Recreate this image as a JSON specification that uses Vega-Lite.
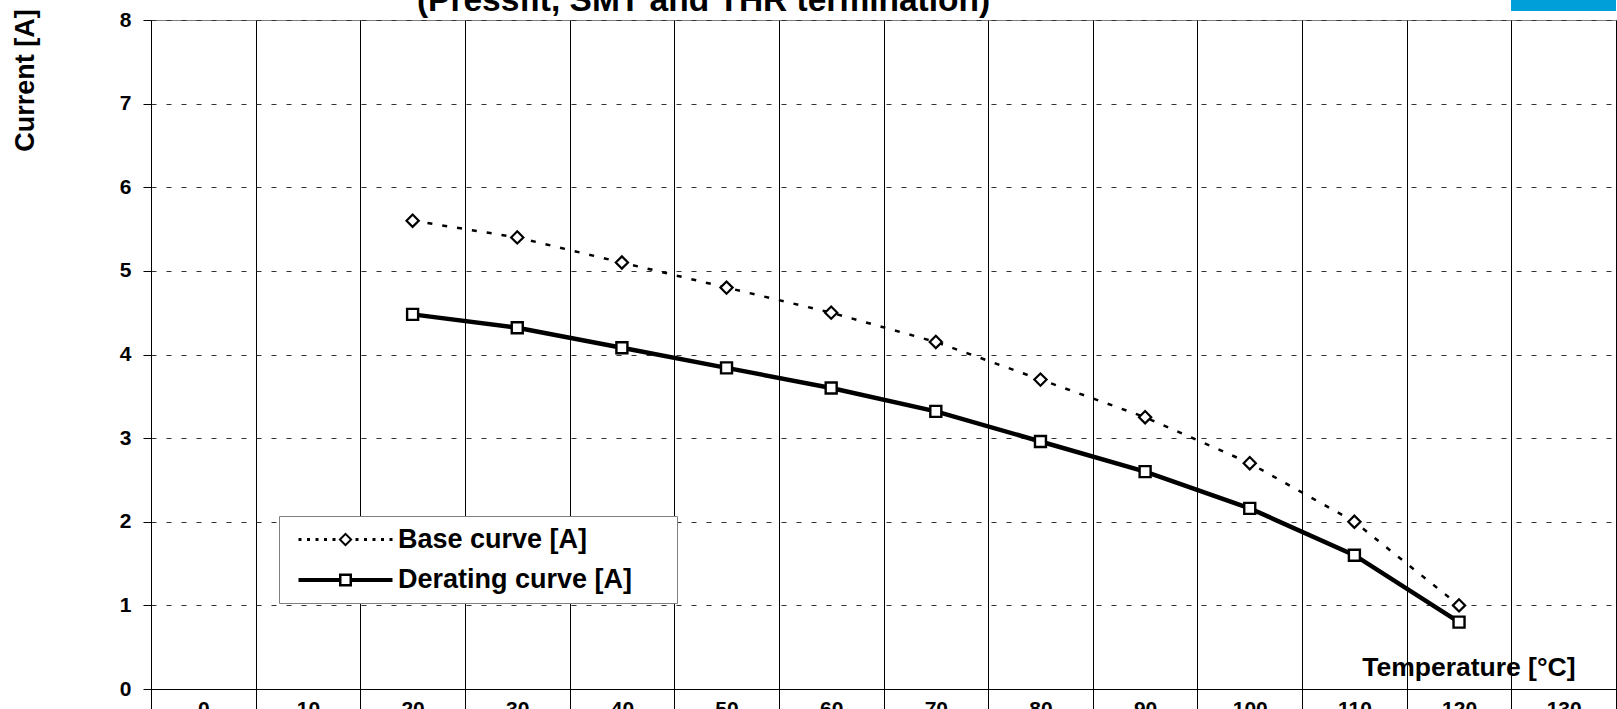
{
  "$schema": "https://vega.github.io/schema/vega-lite/v6.json",
  "autosize": {"type": "none"},
  "padding": {"left": 151, "top": 20, "right": 1, "bottom": 20},
  "width": 1465,
  "height": 669,
  "background": "white",
  "title": {
    "text": "(Pressfit, SMT and THR termination)",
    "fontSize": 33.5,
    "fontWeight": "bold",
    "font": "Liberation Sans",
    "color": "black",
    "anchor": "middle",
    "frame": "group",
    "baseline": "alphabetic",
    "offset": -45,
    "dx": -180
  },
  "config": {
    "view": {"stroke": "#7f7f7f", "strokeWidth": 1},
    "font": "Liberation Sans"
  },
  "data": {
    "values": [
      {"temp": 20, "series": "Base curve [A]", "current": 5.6},
      {"temp": 30, "series": "Base curve [A]", "current": 5.4},
      {"temp": 40, "series": "Base curve [A]", "current": 5.1},
      {"temp": 50, "series": "Base curve [A]", "current": 4.8},
      {"temp": 60, "series": "Base curve [A]", "current": 4.5},
      {"temp": 70, "series": "Base curve [A]", "current": 4.15},
      {"temp": 80, "series": "Base curve [A]", "current": 3.7},
      {"temp": 90, "series": "Base curve [A]", "current": 3.25},
      {"temp": 100, "series": "Base curve [A]", "current": 2.7},
      {"temp": 110, "series": "Base curve [A]", "current": 2.0},
      {"temp": 120, "series": "Base curve [A]", "current": 1.0},
      {"temp": 20, "series": "Derating curve [A]", "current": 4.48},
      {"temp": 30, "series": "Derating curve [A]", "current": 4.32},
      {"temp": 40, "series": "Derating curve [A]", "current": 4.08},
      {"temp": 50, "series": "Derating curve [A]", "current": 3.84},
      {"temp": 60, "series": "Derating curve [A]", "current": 3.6},
      {"temp": 70, "series": "Derating curve [A]", "current": 3.32},
      {"temp": 80, "series": "Derating curve [A]", "current": 2.96},
      {"temp": 90, "series": "Derating curve [A]", "current": 2.6},
      {"temp": 100, "series": "Derating curve [A]", "current": 2.16},
      {"temp": 110, "series": "Derating curve [A]", "current": 1.6},
      {"temp": 120, "series": "Derating curve [A]", "current": 0.8}
    ]
  },
  "encoding": {
    "x": {
      "field": "temp",
      "type": "ordinal",
      "scale": {
        "type": "band",
        "domain": [0, 10, 20, 30, 40, 50, 60, 70, 80, 90, 100, 110, 120, 130],
        "paddingInner": 0,
        "paddingOuter": 0
      },
      "axis": {
        "orient": "bottom",
        "tickBand": "extent",
        "grid": true,
        "gridColor": "black",
        "gridWidth": 1,
        "gridOpacity": 1,
        "ticks": true,
        "tickSize": 25,
        "tickColor": "black",
        "domainColor": "black",
        "labelAngle": 0,
        "labelFontSize": 21,
        "labelFontWeight": "bold",
        "labelColor": "black",
        "labelPadding": -16,
        "title": "Temperature [°C]",
        "titleFontSize": 26.5,
        "titleFontWeight": "bold",
        "titleColor": "black",
        "titleAlign": "right",
        "titleBaseline": "middle",
        "titleAnchor": null,
        "titleX": 1424,
        "titleY": -22
      }
    },
    "y": {
      "field": "current",
      "type": "quantitative",
      "scale": {"domain": [0, 8], "nice": false, "zero": true},
      "axis": {
        "values": [0, 1, 2, 3, 4, 5, 6, 7, 8],
        "grid": true,
        "gridColor": "#333333",
        "gridDash": [5, 10],
        "gridOpacity": 1,
        "tickSize": 8,
        "tickColor": "black",
        "domainColor": "black",
        "labelFontSize": 21,
        "labelFontWeight": "bold",
        "labelColor": "black",
        "labelPadding": 12,
        "title": "Current [A]",
        "titleFontSize": 27,
        "titleFontWeight": "bold",
        "titleColor": "black",
        "titleAlign": "center",
        "titleBaseline": "middle",
        "titleAnchor": null,
        "titleX": -126,
        "titleY": 60
      }
    }
  },
  "layer": [
    {
      "transform": [{"filter": "datum.series === 'Base curve [A]'"}],
      "mark": {"type": "line", "color": "black", "strokeWidth": 2.5, "strokeDash": [5, 10]}
    },
    {
      "transform": [{"filter": "datum.series === 'Derating curve [A]'"}],
      "mark": {"type": "line", "color": "black", "strokeWidth": 4.5}
    },
    {
      "transform": [{"filter": "datum.series === 'Base curve [A]'"}],
      "mark": {"type": "point", "shape": "diamond", "size": 150, "filled": true, "fill": "white", "stroke": "black", "strokeWidth": 2.2, "opacity": 1}
    },
    {
      "transform": [{"filter": "datum.series === 'Derating curve [A]'"}],
      "mark": {"type": "point", "shape": "square", "size": 121, "filled": true, "fill": "white", "stroke": "black", "strokeWidth": 2.4, "opacity": 1}
    },
    {
      "mark": {"type": "point", "opacity": 0, "filled": true, "color": "black"},
      "encoding": {
        "shape": {
          "field": "series",
          "type": "nominal",
          "scale": {
            "domain": ["Base curve [A]", "Derating curve [A]"],
            "range": [
              "M-4.7,-0.15h0.3v0.3h-0.3Z M-3.85,-0.15h0.3v0.3h-0.3Z M-3,-0.15h0.3v0.3h-0.3Z M-2.15,-0.15h0.3v0.3h-0.3Z M-1.3,-0.15h0.3v0.3h-0.3Z M1,-0.15h0.3v0.3h-0.3Z M1.85,-0.15h0.3v0.3h-0.3Z M2.7,-0.15h0.3v0.3h-0.3Z M3.55,-0.15h0.3v0.3h-0.3Z M4.4,-0.15h0.3v0.3h-0.3Z M0,-0.7L0.7,0L0,0.7L-0.7,0Z M0,-0.42L-0.42,0L0,0.42L0.42,0Z",
              "M-4.7,-0.2H-0.65V0.2H-4.7Z M0.65,-0.2H4.7V0.2H0.65Z M-0.65,-0.65H0.65V0.65H-0.65Z M-0.4,-0.4V0.4H0.4V-0.4Z M32.1,0"
            ]
          },
          "legend": {
            "title": null,
            "orient": "none",
            "legendX": 128,
            "legendY": 496,
            "strokeColor": "#808080",
            "fillColor": "white",
            "padding": 10,
            "labelFontSize": 27,
            "labelFontWeight": "bold",
            "labelFont": "Liberation Sans",
            "labelColor": "black",
            "labelLimit": 800,
            "symbolSize": 400,
            "symbolOffset": 43,
            "labelOffset": 39,
            "rowPadding": 12.5,
            "symbolStrokeWidth": 0,
            "symbolFillColor": "black",
            "symbolStrokeColor": "black",
            "symbolOpacity": 1,
            "encode": {
              "symbols": {
                "fill": {"value": "black"},
                "fillOpacity": {"value": 1},
                "stroke": {"value": "transparent"},
                "strokeWidth": {"value": 0},
                "opacity": {"value": 1}
              }
            }
          }
        }
      }
    },
    {
      "mark": {"type": "rect", "color": "#009FDA", "clip": false},
      "encoding": {
        "x": {"datum": 130, "type": "ordinal"},
        "y": {"datum": 8.107, "type": "quantitative"},
        "y2": {"datum": 8.25}
      }
    }
  ]
}
